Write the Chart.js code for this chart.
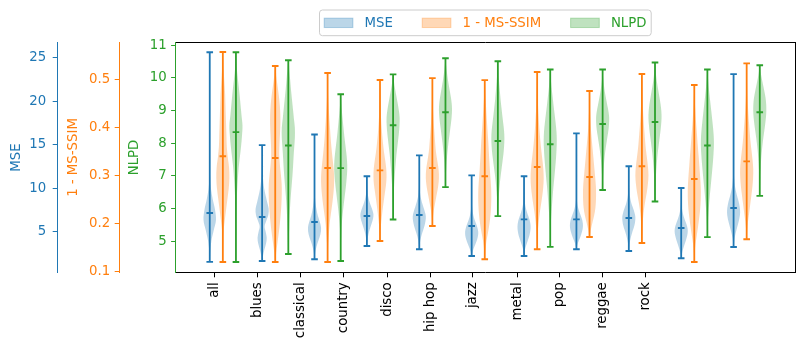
<!DOCTYPE html>
<html><head><meta charset="utf-8">
<script src="https://cdn.jsdelivr.net/npm/chart.js@4/dist/chart.umd.min.js"></script>
<style>html,body{margin:0;padding:0;background:#fff}#wrap{width:804px;height:351px}</style>
</head><body><div id="wrap"><canvas id="c" width="804" height="351"></canvas></div>
<script>
// ---------------- data ----------------
const categories = ['all','blues','classical','country','disco','hip hop','jazz','metal','pop','reggae','rock'];
const seriesNames = ['MSE','1 - MS-SSIM','NLPD'];
// x positions of the category tick labels (on the violin position axis)
const tickPositions = [1.38, 4.66, 7.92, 11.23, 14.54, 17.85, 21.1, 24.47, 27.72, 31.0, 34.31];
const mseTicks = [5, 10, 15, 20, 25];
const ssimTicks = [0.1, 0.2, 0.3, 0.4, 0.5];
const nlpdTicks = [5, 6, 7, 8, 9, 10, 11];

const mseMin  = [1.51, 1.62, 1.82, 3.34, 2.97, 2.20, 2.20, 2.97, 2.77, 1.93, 3.23];
const mseMax  = [25.64, 14.95, 16.18, 11.36, 13.77, 11.47, 11.36, 16.30, 12.51, 10.01, 23.12];
const mseMean = [7.14, 6.68, 6.10, 6.79, 6.91, 5.64, 6.41, 6.41, 6.56, 5.41, 7.71];

const ssimMin  = [0.1194, 0.1194, 0.1194, 0.1632, 0.1945, 0.125, 0.1459, 0.1716, 0.159, 0.1194, 0.1668];
const ssimMax  = [0.5576, 0.5284, 0.5138, 0.4992, 0.5033, 0.499, 0.5159, 0.4762, 0.5117, 0.4887, 0.534];
const ssimMean = [0.340, 0.3364, 0.3155, 0.3107, 0.3155, 0.2982, 0.3176, 0.2968, 0.3191, 0.2926, 0.3295];

const nlpdMin  = [4.368, 4.61, 4.40, 5.67, 6.66, 5.77, 4.83, 6.57, 6.22, 5.13, 6.39];
const nlpdMax  = [10.786, 10.54, 9.50, 10.11, 10.60, 10.51, 10.26, 10.26, 10.47, 10.26, 10.39];
const nlpdMean = [8.34, 7.93, 7.24, 8.55, 8.95, 8.07, 7.97, 8.59, 8.65, 7.93, 8.95];

// relative density (violin width) at 21 evenly spaced levels from min (first) to max (last)
const mseShape = [
  [0.02,0.08,0.25,0.6,0.95,0.8,0.45,0.18,0.06,0.03,0.02,0.01,0.01,0.01,0.01,0.01,0.01,0.01,0.01,0.01,0.01],
  [0.05,0.15,0.35,0.6,0.7,0.55,0.38,0.65,0.95,1.0,0.8,0.6,0.4,0.25,0.15,0.08,0.05,0.03,0.02,0.01,0.01],
  [0.03,0.1,0.3,0.6,0.9,1.0,0.8,0.5,0.3,0.15,0.07,0.04,0.02,0.01,0.01,0.01,0.01,0.01,0.01,0.01,0.01],
  [0.03,0.06,0.12,0.2,0.32,0.48,0.65,0.82,0.95,1.0,0.9,0.72,0.52,0.35,0.22,0.13,0.08,0.05,0.03,0.02,0.01],
  [0.03,0.08,0.18,0.35,0.58,0.8,0.95,1.0,0.85,0.62,0.4,0.22,0.12,0.06,0.04,0.03,0.02,0.01,0.01,0.01,0.01],
  [0.05,0.15,0.35,0.6,0.82,0.97,1.0,0.88,0.68,0.45,0.27,0.15,0.08,0.05,0.03,0.02,0.01,0.01,0.01,0.01,0.01],
  [0.03,0.08,0.2,0.4,0.6,0.8,0.93,1.0,0.97,0.85,0.65,0.45,0.28,0.16,0.09,0.05,0.03,0.02,0.01,0.01,0.01],
  [0.03,0.2,0.55,0.85,1.0,0.9,0.6,0.3,0.12,0.05,0.03,0.02,0.02,0.01,0.01,0.01,0.01,0.01,0.01,0.01,0.01],
  [0.03,0.07,0.15,0.28,0.45,0.65,0.85,0.97,1.0,0.88,0.68,0.45,0.28,0.16,0.09,0.05,0.03,0.02,0.01,0.01,0.01],
  [0.04,0.1,0.2,0.35,0.52,0.7,0.85,0.97,1.0,0.92,0.75,0.55,0.37,0.23,0.13,0.07,0.04,0.03,0.02,0.01,0.01],
  [0.03,0.15,0.45,0.8,1.0,0.85,0.5,0.22,0.09,0.04,0.02,0.02,0.01,0.01,0.01,0.01,0.01,0.01,0.01,0.01,0.01]
];
const ssimShape = [
  [0.02,0.03,0.06,0.12,0.3,0.5,0.7,0.9,1.0,0.95,0.75,0.6,0.55,0.5,0.45,0.4,0.35,0.25,0.15,0.06,0.02],
  [0.05,0.15,0.35,0.55,0.72,0.85,0.95,1.0,0.98,0.85,0.7,0.62,0.65,0.72,0.78,0.78,0.7,0.55,0.35,0.15,0.05],
  [0.02,0.05,0.1,0.2,0.3,0.48,0.68,0.85,0.97,1.0,0.9,0.75,0.6,0.48,0.38,0.28,0.2,0.12,0.07,0.03,0.01],
  [0.03,0.07,0.15,0.28,0.42,0.58,0.75,0.92,1.0,0.95,0.8,0.62,0.48,0.36,0.26,0.18,0.12,0.07,0.04,0.02,0.01],
  [0.03,0.08,0.2,0.4,0.6,0.82,0.97,1.0,0.9,0.72,0.55,0.45,0.36,0.28,0.2,0.14,0.09,0.06,0.04,0.02,0.01],
  [0.03,0.1,0.25,0.5,0.72,0.88,0.97,1.0,0.97,0.88,0.78,0.7,0.62,0.55,0.46,0.37,0.28,0.2,0.12,0.06,0.02],
  [0.01,0.04,0.1,0.22,0.38,0.58,0.78,0.93,1.0,0.95,0.82,0.66,0.52,0.4,0.3,0.22,0.15,0.1,0.06,0.03,0.01],
  [0.05,0.2,0.45,0.72,0.9,0.98,1.0,0.97,0.88,0.78,0.68,0.58,0.48,0.38,0.28,0.2,0.14,0.09,0.05,0.03,0.01],
  [0.02,0.05,0.1,0.18,0.32,0.52,0.75,0.92,1.0,0.93,0.78,0.62,0.5,0.4,0.3,0.22,0.15,0.1,0.06,0.03,0.01],
  [0.02,0.07,0.18,0.38,0.58,0.75,0.9,0.98,1.0,0.95,0.86,0.76,0.66,0.55,0.45,0.35,0.25,0.17,0.1,0.05,0.02],
  [0.03,0.08,0.2,0.38,0.55,0.72,0.88,0.98,1.0,0.9,0.75,0.6,0.48,0.38,0.28,0.2,0.13,0.08,0.05,0.03,0.01]
];
const nlpdShape = [
  [0.01,0.01,0.02,0.03,0.04,0.06,0.12,0.2,0.3,0.42,0.6,0.78,0.92,1.0,0.85,0.7,0.55,0.38,0.2,0.07,0.02],
  [0.03,0.06,0.1,0.15,0.2,0.28,0.38,0.5,0.62,0.72,0.8,0.9,1.0,1.0,0.85,0.7,0.55,0.4,0.28,0.15,0.05],
  [0.01,0.02,0.04,0.08,0.13,0.22,0.35,0.5,0.65,0.8,0.92,1.0,0.97,0.85,0.7,0.55,0.42,0.3,0.18,0.08,0.03],
  [0.02,0.04,0.06,0.09,0.12,0.18,0.25,0.33,0.42,0.52,0.65,0.78,0.9,0.98,1.0,0.88,0.7,0.5,0.3,0.13,0.04],
  [0.02,0.04,0.07,0.12,0.18,0.26,0.36,0.47,0.6,0.72,0.85,0.95,1.0,0.95,0.82,0.65,0.48,0.33,0.2,0.09,0.03],
  [0.02,0.05,0.1,0.18,0.28,0.4,0.55,0.7,0.85,0.95,1.0,0.95,0.82,0.68,0.55,0.42,0.32,0.22,0.13,0.06,0.02],
  [0.01,0.03,0.06,0.12,0.2,0.3,0.4,0.52,0.65,0.77,0.88,0.96,1.0,0.95,0.82,0.66,0.5,0.35,0.2,0.09,0.03],
  [0.02,0.04,0.07,0.12,0.18,0.26,0.36,0.48,0.62,0.76,0.9,0.98,1.0,0.9,0.72,0.55,0.38,0.24,0.13,0.06,0.02],
  [0.02,0.04,0.07,0.11,0.16,0.23,0.32,0.42,0.55,0.68,0.82,0.93,1.0,0.97,0.85,0.68,0.5,0.33,0.18,0.08,0.02],
  [0.02,0.05,0.1,0.17,0.27,0.38,0.5,0.62,0.74,0.85,0.94,1.0,0.97,0.87,0.74,0.6,0.46,0.32,0.19,0.09,0.03],
  [0.01,0.03,0.05,0.08,0.12,0.17,0.24,0.33,0.44,0.56,0.7,0.83,0.94,1.0,0.98,0.88,0.7,0.5,0.3,0.13,0.04]
];

// ---------------- styling ----------------
const FONT = 'DejaVu Sans';
const FS = 13.3;
const colors = ['#1f77b4', '#ff7f0e', '#2ca02c'];
const fills = ['rgba(31,119,180,0.3)', 'rgba(255,127,14,0.3)', 'rgba(44,160,44,0.3)'];
const axisIds = ['yMSE', 'ySSIM', 'yNLPD'];
const series = [
  {min: mseMin, max: mseMax, mean: mseMean, shape: mseShape},
  {min: ssimMin, max: ssimMax, mean: ssimMean, shape: ssimShape},
  {min: nlpdMin, max: nlpdMax, mean: nlpdMean, shape: nlpdShape}
];
const HALF_WIDTH = 0.5;      // violin half width at maximum density (x units)
const posOf = (i, m) => 4 * i + 1 + m;

function violinPoints(pos, lo, hi, shape) {
  const n = shape.length, pts = [];
  for (let k = 0; k < n; k++) pts.push({x: pos + HALF_WIDTH * shape[k], y: lo + (hi - lo) * k / (n - 1)});
  for (let k = n - 1; k >= 0; k--) pts.push({x: pos - HALF_WIDTH * shape[k], y: lo + (hi - lo) * k / (n - 1)});
  return pts;
}

const datasets = [];
series.forEach((s, m) => {
  const base = (2 - m) * 3;
  categories.forEach((c, i) => {
    datasets.push({
      type: 'line', label: seriesNames[m] + ' ' + c, xAxisID: 'x', yAxisID: axisIds[m],
      data: violinPoints(posOf(i, m), s.min[i], s.max[i], s.shape[i]),
      fill: 'shape', backgroundColor: fills[m], borderColor: 'rgba(0,0,0,0)', borderWidth: 0,
      pointRadius: 0, tension: 0.35, order: base + 3
    });
  });
  const bars = [];
  categories.forEach((c, i) => {
    bars.push({x: posOf(i, m), y: s.min[i]}, {x: posOf(i, m), y: s.max[i]}, {x: posOf(i, m), y: null});
  });
  datasets.push({
    type: 'line', label: seriesNames[m] + ' range', xAxisID: 'x', yAxisID: axisIds[m], data: bars,
    borderColor: colors[m], borderWidth: 1.8, pointRadius: 0, fill: false, spanGaps: false, tension: 0,
    borderCapStyle: 'butt', order: base + 2
  });
  const caps = [];
  categories.forEach((c, i) => {
    caps.push({x: posOf(i, m), y: s.min[i]}, {x: posOf(i, m), y: s.max[i]}, {x: posOf(i, m), y: s.mean[i]});
  });
  datasets.push({
    type: 'line', label: seriesNames[m] + ' caps', xAxisID: 'x', yAxisID: axisIds[m], data: caps,
    showLine: false, pointStyle: 'line', pointRadius: 3.3, pointBorderWidth: 1.9,
    pointBorderColor: colors[m], pointBackgroundColor: colors[m], order: base + 1
  });
});

function yAxis(m, weight, min, max, ticks, width, title, titlePad, tickPad) {
  return {
    type: 'linear', position: 'left', weight: weight, min: min, max: max,
    afterBuildTicks: s => { s.ticks = ticks.map(v => ({value: v})); },
    afterFit: s => { s.width = width; },
    title: {display: true, text: title, color: colors[m], font: {family: FONT, size: FS}, padding: {top: titlePad, bottom: 0}},
    ticks: {color: colors[m], padding: tickPad, font: {family: FONT, size: FS}, callback: v => String(v)},
    grid: {display: true, drawOnChartArea: false, drawTicks: true, tickLength: 4.6, color: colors[m], tickColor: colors[m], tickWidth: 1},
    border: {display: true, color: colors[m], width: 1}
  };
}

// custom legend drawn in the matplotlib style (framed, centered over the plot)
const legendPlugin = {
  id: 'mplLegend',
  afterDraw(chart) {
    const ctx = chart.ctx, ca = chart.chartArea;
    const patchW = 28.7, patchH = 9.4, gap = 11.6, colSp = 29.4, pad = 4.7;
    ctx.save();
    ctx.font = FS + 'px "' + FONT + '"';
    const tw = seriesNames.map(t => ctx.measureText(t).width);
    let total = 2 * pad + colSp * (seriesNames.length - 1);
    tw.forEach(w => { total += patchW + gap + w; });
    const left = (ca.left + ca.right) / 2 - total / 2, top = 10, h = 25.7, cy = top + h / 2;
    const r = 3;
    ctx.beginPath();
    ctx.moveTo(left + r, top); ctx.lineTo(left + total - r, top);
    ctx.quadraticCurveTo(left + total, top, left + total, top + r);
    ctx.lineTo(left + total, top + h - r);
    ctx.quadraticCurveTo(left + total, top + h, left + total - r, top + h);
    ctx.lineTo(left + r, top + h);
    ctx.quadraticCurveTo(left, top + h, left, top + h - r);
    ctx.lineTo(left, top + r);
    ctx.quadraticCurveTo(left, top, left + r, top);
    ctx.closePath();
    ctx.fillStyle = 'rgba(255,255,255,0.8)'; ctx.fill();
    ctx.strokeStyle = '#cccccc'; ctx.lineWidth = 1; ctx.stroke();
    let x = left + pad;
    seriesNames.forEach((t, m) => {
      ctx.fillStyle = fills[m]; ctx.strokeStyle = fills[m]; ctx.lineWidth = 1;
      ctx.fillRect(x, cy - patchH / 2, patchW, patchH);
      ctx.strokeRect(x, cy - patchH / 2, patchW, patchH);
      x += patchW + gap;
      ctx.fillStyle = colors[m]; ctx.textAlign = 'left'; ctx.textBaseline = 'middle';
      ctx.fillText(t, x, cy + 0.5);
      x += tw[m] + colSp;
    });
    ctx.restore();
  }
};

Chart.defaults.font.family = FONT;
Chart.defaults.font.size = FS;

new Chart(document.getElementById('c'), {
  type: 'line',
  data: {datasets: datasets},
  options: {
    responsive: false, animation: false, events: [], devicePixelRatio: 1,
    layout: {padding: {left: 0, right: 9, top: 42.3, bottom: 0}},
    plugins: {legend: {display: false}, tooltip: {enabled: false}},
    scales: {
      x: {
        type: 'linear', position: 'bottom', min: -1.6, max: 45.69,
        afterBuildTicks: s => { s.ticks = tickPositions.map(v => ({value: v})); },
        afterFit: s => { s.height = 78.3; },
        grid: {display: true, drawOnChartArea: false, drawTicks: true, tickLength: 4.6, color: '#000', tickColor: '#000'},
        border: {display: true, color: '#000', width: 1},
        ticks: {autoSkip: false, minRotation: 90, maxRotation: 90, padding: 5, color: '#000',
                font: {family: FONT, size: FS}, callback: (v, i) => categories[i]}
      },
      xTop: {
        type: 'linear', position: 'top', min: -1.6, max: 45.69,
        grid: {display: false}, ticks: {display: false},
        border: {display: true, color: '#000', width: 1},
        afterFit: s => { s.height = 0; }
      },
      yRight: {
        type: 'linear', position: 'right', min: 0, max: 1,
        grid: {display: false}, ticks: {display: false},
        border: {display: true, color: '#000', width: 1},
        afterFit: s => { s.width = 0; }
      },
      yMSE: yAxis(0, 3, 0.27, 26.78, mseTicks, 57.3, 'MSE', 8.2, 6.5),
      ySSIM: yAxis(1, 2, 0.097, 0.578, ssimTicks, 62, '1 - MS-SSIM', 8.2, 4.5),
      yNLPD: yAxis(2, 1, 4.04, 11.09, nlpdTicks, 56.4, 'NLPD', 7.4, 4.5)
    }
  },
  plugins: [legendPlugin]
});
</script></body></html>
